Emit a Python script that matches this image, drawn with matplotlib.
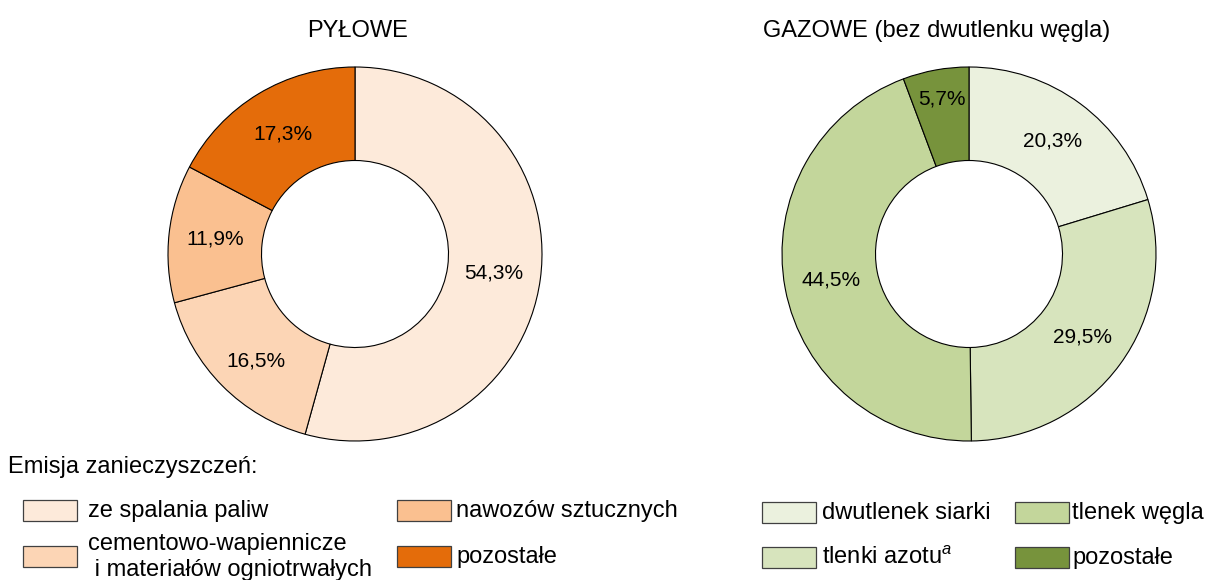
import matplotlib
matplotlib.use('Agg')
import matplotlib.pyplot as plt
from matplotlib.patches import Rectangle

plt.rcParams['font.family'] = ['Liberation Sans', 'DejaVu Sans']
plt.rcParams['mathtext.fontset'] = 'custom'
plt.rcParams['mathtext.rm'] = 'Liberation Sans'
plt.rcParams['mathtext.it'] = 'Liberation Sans:italic'

# data
dust_labels = ['ze spalania paliw', 'cementowo-wapiennicze\n i materiałów ogniotrwałych',
               'nawozów sztucznych', 'pozostałe']
dust_values = [54.3, 16.5, 11.9, 17.3]
dust_colors = ['#FDEADA', '#FCD5B5', '#FAC090', '#E46C0A']

gas_labels = ['dwutlenek siarki', 'tlenki azotu$^{a}$', 'tlenek węgla', 'pozostałe']
gas_values = [20.3, 29.5, 44.5, 5.7]
gas_colors = ['#EBF1DE', '#D7E4BD', '#C3D69B', '#77933C']

W, H = 1211, 580
fig = plt.figure(figsize=(W / 100, H / 100), dpi=100)

R = 187   # donut radius in px
half = 200


def donut(cx, cy, values, colors):
    ax = fig.add_axes([(cx - half) / W, (H - cy - half) / H, 2 * half / W, 2 * half / H])
    wedges, texts, autotexts = ax.pie(
        values, colors=colors, startangle=90, counterclock=False,
        autopct=lambda p: f'{p:.1f}%'.replace('.', ','), pctdistance=0.75,
        wedgeprops=dict(width=0.5, edgecolor='black', linewidth=0.8),
        textprops=dict(fontsize=15, color='black'))
    lim = half / R
    ax.set_xlim(-lim, lim)
    ax.set_ylim(-lim, lim)
    ax.set_aspect('equal')
    ax.axis('off')
    return wedges, autotexts


dust_wedges, dust_txt = donut(355, 254, dust_values, dust_colors)
gas_wedges, gas_txt = donut(969, 254, gas_values, gas_colors)

# small label nudges as in the original
x, y = dust_txt[1].get_position()
dust_txt[1].set_position((x, y * 1.08))
x, y = gas_txt[3].get_position()
gas_txt[3].set_position((x * 1.1, y * 1.12))

# overlay for titles and legends (pixel coordinates)
ov = fig.add_axes([0, 0, 1, 1])
ov.set_xlim(0, W)
ov.set_ylim(H, 0)
ov.axis('off')
ov.patch.set_alpha(0)

ov.text(358, 31, 'PYŁOWE', fontsize=17, ha='center', va='center')
ov.text(937, 31, 'GAZOWE (bez dwutlenku węgla)', fontsize=17, ha='center', va='center')
ov.text(8, 467, 'Emisja zanieczyszczeń:', fontsize=17, ha='left', va='center')


def legend(labels, colors, box_x, text_x, rows):
    for i, (lab, col) in enumerate(zip(labels, colors)):
        c, r = i // 2, i % 2
        ov.add_patch(Rectangle((box_x[c], rows[r] - 10), 54, 21, facecolor=col,
                               edgecolor='#404040', linewidth=0.9))
        ov.text(text_x[c], rows[r] + 1, lab, fontsize=17, ha='left', va='center',
                linespacing=1.2)


legend(dust_labels, dust_colors, [23, 397], [88, 456], [510, 556])
legend(gas_labels, gas_colors, [762, 1015], [822, 1072], [512, 557])

fig.savefig('out.png', dpi=100)
